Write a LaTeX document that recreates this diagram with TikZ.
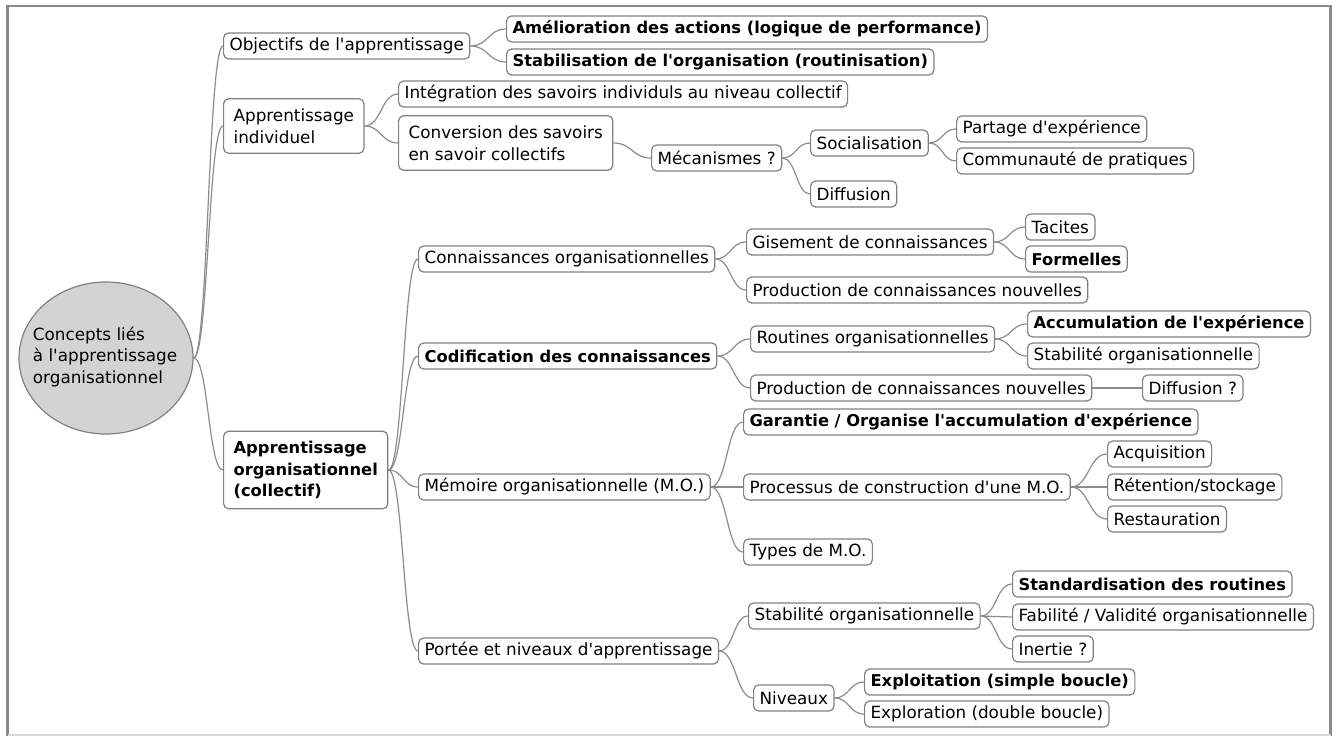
\documentclass[tikz,border=0pt]{standalone}
\usepackage{fontspec}
\newfontfamily\mmfont{DejaVu Sans}
\usetikzlibrary{shapes.geometric,calc,backgrounds}
\definecolor{boxgray}{HTML}{808080}
\definecolor{linkgray}{HTML}{8C8C8C}
\definecolor{rootfill}{HTML}{D3D3D3}
\definecolor{framegray}{HTML}{8A8A8A}
\newcommand\topicfont{\mmfont\fontsize{16.8}{21.5}\selectfont}
\newcommand\topicbold{\mmfont\bfseries\fontsize{16.3}{21.5}\selectfont}
\tikzset{
  branch/.style={to path={let \p1=(\tikztostart), \p2=(\tikztotarget), \n1={0.5*(\x1+\x2)} in
      (\p1) .. controls (\n1,\y1) and (\n1,\y2) .. (\p2)}},
  link/.style={draw=linkgray, line width=1.2pt, branch},
  topic/.style={draw=boxgray, line width=1.2pt, rounded corners=5pt, fill=white,
      inner xsep=6pt, inner ysep=0pt, minimum height=26pt, anchor=west, font=\topicfont},
  multi/.style={topic, align=left, inner xsep=10pt, inner ysep=10pt},
  strong/.style={font=\topicbold},
}
\begin{document}
\begin{tikzpicture}[x=1pt,y=-1pt]
\useasboundingbox (0,0) rectangle (1332,736);
% window frame
\draw[framegray, line width=2.5pt] (7.5,736) -- (7.5,6) -- (1330.5,6) -- (1330.5,736);
\draw[black!15, line width=2pt] (7.5,735) -- (1330.5,735);

% central topic
\node[ellipse, draw=boxgray, line width=1.2pt, fill=rootfill, minimum width=174pt,
      minimum height=152pt, inner sep=0pt] (root) at (106,358) {};
\node[font=\topicfont, align=left, inner sep=0pt] (rootlabel) at (105,357)
  {Concepts liés\\à l'apprentissage\\organisationnel};

% first level
\node[topic] (obj) at (223,46) {Objectifs de l'apprentissage};
\node[multi] (indiv) at (223,126) {Apprentissage\\individuel};
\node[multi, strong] (orga) at (223,470) {Apprentissage\\organisationnel\\(collectif)};

% objectifs
\node[topic, strong] (amel) at (506,29) {Amélioration des actions (logique de performance)};
\node[topic, strong] (stab) at (506,62) {Stabilisation de l'organisation (routinisation)};

% apprentissage individuel
\node[topic] (integ) at (398,94) {Intégration des savoirs individuls au niveau collectif};
\node[multi] (conv) at (398,143) {Conversion des savoirs\\en savoir collectifs};
\node[topic] (meca) at (651,158) {Mécanismes ?};
\node[topic] (socia) at (810,143) {Socialisation};
\node[topic] (diffu) at (810,194) {Diffusion};
\node[topic] (partage) at (956,129) {Partage d'expérience};
\node[topic] (commu) at (956,161) {Communauté de pratiques};

% apprentissage organisationnel
\node[topic] (connorg) at (418,259) {Connaissances organisationnelles};
\node[topic, strong] (codif) at (418,356) {Codification des connaissances};
\node[topic] (memo) at (418,487) {Mémoire organisationnelle (M.O.)};
\node[topic] (portee) at (418,651) {Portée et niveaux d'apprentissage};

\node[topic] (gise) at (746,242) {Gisement de connaissances};
\node[topic] (prodA) at (746,290) {Production de connaissances nouvelles};
\node[topic] (tacit) at (1025,227) {Tacites};
\node[topic, strong] (forme) at (1025,259) {Formelles};

\node[topic] (routi) at (750,339) {Routines organisationnelles};
\node[topic] (prodB) at (750,388) {Production de connaissances nouvelles};
\node[topic, strong] (accum) at (1027,324) {Accumulation de l'expérience};
\node[topic] (stabA) at (1027,356) {Stabilité organisationnelle};
\node[topic] (diffq) at (1142,388) {Diffusion ?};

\node[topic, strong] (garan) at (743,422) {Garantie / Organise l'accumulation d'expérience};
\node[topic] (proc) at (743,487) {Processus de construction d'une M.O.};
\node[topic] (types) at (743,552) {Types de M.O.};
\node[topic] (acq) at (1107,454) {Acquisition};
\node[topic] (reten) at (1107,487) {Rétention/stockage};
\node[topic] (resta) at (1107,519) {Restauration};

\node[topic] (stabB) at (748,616) {Stabilité organisationnelle};
\node[topic] (niv) at (753,698) {Niveaux};
\node[topic, strong] (stand) at (1012,584) {Standardisation des routines};
\node[topic] (fiab) at (1012,617) {Fabilité / Validité organisationnelle};
\node[topic] (inert) at (1012,649) {Inertie ?};
\node[topic, strong] (exploi) at (864,682) {Exploitation (simple boucle)};
\node[topic] (explor) at (864,714) {Exploration (double boucle)};

% connectors
\begin{scope}[on background layer]
\foreach \a/\b in {root/obj, root/indiv, root/orga,
    obj/amel, obj/stab, indiv/integ, indiv/conv, conv/meca, meca/socia, meca/diffu,
    socia/partage, socia/commu,
    orga/connorg, orga/codif, orga/memo, orga/portee,
    connorg/gise, connorg/prodA, gise/tacit, gise/forme,
    codif/routi, codif/prodB, routi/accum, routi/stabA, prodB/diffq,
    memo/garan, memo/proc, memo/types, proc/acq, proc/reten, proc/resta,
    portee/stabB, portee/niv, stabB/stand, stabB/fiab, stabB/inert,
    niv/exploi, niv/explor}
  \draw[link] (\a.east) to (\b.west);
\end{scope}
\end{tikzpicture}
\end{document}
